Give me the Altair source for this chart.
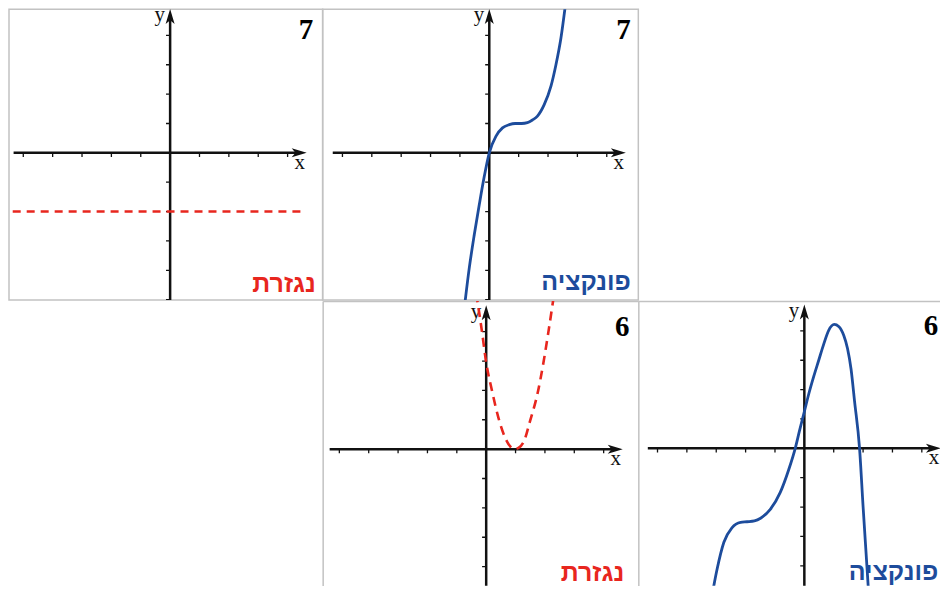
import altair as alt
import pandas as pd

# ---------------- values ----------------
panel_numbers = ["7", "7", "6", "6"]
panel_names = ["נגזרת", "פונקציה", "נגזרת", "פונקציה"]

x_tick_values = [-5, -4, -3, -2, -1, 1, 2, 3, 4]
y_tick_values = [-5, -4, -3, -2, -1, 1, 2, 3, 4]

# panel "7" derivative: horizontal dashed line y = -2
deriv7_x = [-5.36, 4.58]
deriv7_y = [-2.0, -2.0]

# panel "7" function (plateau near (1, 1))
func7_x = [-0.84, -0.68, -0.51, -0.34, -0.17, 0.0, 0.23, 0.45, 0.68, 0.88,
           1.1, 1.3, 1.47, 1.64, 1.87, 2.1, 2.27, 2.44, 2.6]
func7_y = [-5.2, -3.91, -2.78, -1.76, -0.8, 0.0, 0.57, 0.85, 0.96, 1.0,
           1.0, 1.03, 1.12, 1.25, 1.64, 2.27, 3.0, 3.91, 5.1]

# panel "6" derivative (dashed parabola, vertex near x = 1)
deriv6_x = [-0.34, -0.15, 0.0, 0.2, 0.43, 0.65, 0.85, 0.97, 1.1, 1.3,
            1.5, 1.75, 1.95, 2.12, 2.3]
deriv6_y = [5.3, 4.05, 2.95, 1.98, 1.02, 0.38, 0.06, 0.0, 0.04, 0.3,
            0.98, 1.9, 2.95, 4.0, 5.2]

# panel "6" function (plateau near x = -2, max near x = 1)
func6_x = [-3.16, -2.97, -2.74, -2.46, -2.17, -1.95, -1.7, -1.49, -1.16, -0.82,
           -0.53, -0.31, -0.16, 0.0, 0.15, 0.32, 0.49, 0.66, 0.83, 1.02,
           1.17, 1.34, 1.47, 1.59, 1.71, 1.88, 2.0, 2.13, 2.2]
func6_y = [-5.1, -4.11, -3.2, -2.7, -2.52, -2.5, -2.47, -2.38, -2.08, -1.5,
           -0.72, 0.0, 0.62, 1.25, 1.85, 2.45, 3.0, 3.55, 4.02, 4.22,
           4.15, 3.85, 3.4, 2.7, 1.6, 0.0, -1.98, -4.0, -5.1]

# axis extents (in axis units)
axis_x_from, axis_x_to, arrow_x_at = -5.33, 4.45, 4.395
axis_y_from, axis_y_to, arrow_y_at = -5.4, 4.7, 4.645

# label anchors (axis units)
xlabel_pos = (4.41, -0.55)
ylabel_pos = (-0.35, 4.48)
number_pos = [(4.87, 3.86), (4.82, 3.87), (4.88, 3.84), (4.56, 3.87)]
name_pos = [(4.96, -4.74), (4.82, -4.67), (4.70, -4.48), (4.56, -4.50)]

# ---------------- styles / layout ----------------
U = 29.4  # pixels per unit
BLUE = "#1d4c9c"
RED = "#e8261e"
AXIS = "#111111"
FRAME = "#c2c2c2"
SERIF = "Liberation Serif, DejaVu Serif, serif"
SANS = "Liberation Sans, Arial, DejaVu Sans, sans-serif"
ARROW_RIGHT = "M1,0L-1,-0.6L-0.5,0L-1,0.6Z"
ARROW_UP = "M0,-1L0.6,1L0,0.5L-0.6,1Z"

col_w = [314, 316, 302]
row_h = [291, 285]


def make_panel(w, h, ox, oy, layers_fn, number, npos_num, name, name_color, npos, framed):
    domx = [-ox / U, (w - ox) / U]
    domy = [-(h - oy) / U, oy / U]
    if framed:
        ax_x = None
        ax_y = None
    else:
        # only the left and top frame edges are visible in the picture
        ax_x = alt.Axis(orient="top", domain=True, domainColor=FRAME, domainWidth=1.5,
                        ticks=False, labels=False, grid=False, title="")
        ax_y = alt.Axis(orient="left", domain=True, domainColor=FRAME, domainWidth=1.5,
                        ticks=False, labels=False, grid=False, title="")
    X = lambda f: alt.X(f, type="quantitative", scale=alt.Scale(domain=domx, nice=False, zero=False), axis=ax_x)
    Y = lambda f: alt.Y(f, type="quantitative", scale=alt.Scale(domain=domy, nice=False, zero=False), axis=ax_y)

    xaxis = alt.Chart(pd.DataFrame({"x": [axis_x_from], "x2": [axis_x_to], "y": [0.0]})).mark_rule(
        color=AXIS, strokeWidth=2.5, clip=True).encode(x=X("x"), x2="x2:Q", y=Y("y"))
    yaxis = alt.Chart(pd.DataFrame({"y": [axis_y_from], "y2": [axis_y_to], "x": [0.0]})).mark_rule(
        color=AXIS, strokeWidth=2.5, clip=True).encode(y=Y("y"), y2="y2:Q", x=X("x"))
    xt = alt.Chart(pd.DataFrame({"x": x_tick_values, "y": [0.0] * len(x_tick_values),
                                 "y2": [-0.14] * len(x_tick_values)})).mark_rule(
        color=AXIS, strokeWidth=1.3, clip=True).encode(x=X("x"), y=Y("y"), y2="y2:Q")
    yt = alt.Chart(pd.DataFrame({"y": y_tick_values, "x": [-0.14] * len(y_tick_values),
                                 "x2": [0.0] * len(y_tick_values)})).mark_rule(
        color=AXIS, strokeWidth=1.3, clip=True).encode(y=Y("y"), x=X("x"), x2="x2:Q")
    ar = alt.Chart(pd.DataFrame({"x": [arrow_x_at], "y": [0.0]})).mark_point(
        shape=ARROW_RIGHT, size=225, filled=True, opacity=1, color=AXIS, strokeWidth=0, clip=True
    ).encode(x=X("x"), y=Y("y"))
    au = alt.Chart(pd.DataFrame({"x": [0.0], "y": [arrow_y_at]})).mark_point(
        shape=ARROW_UP, size=225, filled=True, opacity=1, color=AXIS, strokeWidth=0, clip=True
    ).encode(x=X("x"), y=Y("y"))
    axlab = alt.Chart(pd.DataFrame({"x": [xlabel_pos[0], ylabel_pos[0]],
                                    "y": [xlabel_pos[1], ylabel_pos[1]],
                                    "t": ["x", "y"]})).mark_text(
        font=SERIF, fontSize=21, color=AXIS, align="center", baseline="alphabetic", clip=True
    ).encode(x=X("x"), y=Y("y"), text="t:N")
    num = alt.Chart(pd.DataFrame({"x": [npos_num[0]], "y": [npos_num[1]], "t": [number]})).mark_text(
        font=SERIF, fontSize=29, fontWeight="bold", color="#000000", align="right",
        baseline="alphabetic", clip=True
    ).encode(x=X("x"), y=Y("y"), text="t:N")
    nm = alt.Chart(pd.DataFrame({"x": [npos[0]], "y": [npos[1]], "t": [name]})).mark_text(
        font=SANS, fontSize=25, fontWeight="bold", color=name_color, align="right",
        baseline="alphabetic", clip=True
    ).encode(x=X("x"), y=Y("y"), text="t:N")

    layers = [xaxis, yaxis, xt, yt, ar, au, axlab, num, nm] + layers_fn(X, Y)
    props = dict(width=w, height=h)
    if not framed:
        props["view"] = alt.ViewBackground(strokeOpacity=0)
    return alt.layer(*layers).properties(**props)


def deriv7_layers(X, Y):
    df = pd.DataFrame({"x": [deriv7_x[0]], "x2": [deriv7_x[1]], "y": [deriv7_y[0]]})
    return [alt.Chart(df).mark_rule(color=RED, strokeWidth=2.5, strokeDash=[8, 6], clip=True)
            .encode(x=X("x"), x2="x2:Q", y=Y("y"))]


def func7_layers(X, Y):
    df = pd.DataFrame({"x": func7_x, "y": func7_y})
    return [alt.Chart(df).mark_line(color=BLUE, strokeWidth=2.8, interpolate="monotone", clip=True)
            .encode(x=X("x"), y=Y("y"))]


def deriv6_layers(X, Y):
    df = pd.DataFrame({"x": deriv6_x, "y": deriv6_y})
    return [alt.Chart(df).mark_line(color=RED, strokeWidth=2.6, strokeDash=[9, 6],
                                    interpolate="monotone", clip=True)
            .encode(x=X("x"), y=Y("y"))]


def func6_layers(X, Y):
    df = pd.DataFrame({"x": func6_x, "y": func6_y})
    return [alt.Chart(df).mark_line(color=BLUE, strokeWidth=2.8, interpolate="monotone", clip=True)
            .encode(x=X("x"), y=Y("y"))]


def empty(w, h):
    return alt.Chart(pd.DataFrame({"x": [0.0], "y": [0.0]})).mark_point(opacity=0, size=1).encode(
        x=alt.X("x:Q", axis=None, scale=alt.Scale(domain=[-1, 1])),
        y=alt.Y("y:Q", axis=None, scale=alt.Scale(domain=[-1, 1]))
    ).properties(width=w, height=h, view=alt.ViewBackground(strokeOpacity=0))


p1 = make_panel(col_w[0], row_h[0], 161.3, 143.7, deriv7_layers, panel_numbers[0], number_pos[0],
                panel_names[0], RED, name_pos[0], True)
p2 = make_panel(col_w[1], row_h[0], 166.8, 143.7, func7_layers, panel_numbers[1], number_pos[1],
                panel_names[1], BLUE, name_pos[1], True)
p3 = make_panel(col_w[1], row_h[1], 163.7, 148.3, deriv6_layers, panel_numbers[2], number_pos[2],
                panel_names[2], RED, name_pos[2], False)
p4 = make_panel(col_w[2], row_h[1], 166.2, 147.5, func6_layers, panel_numbers[3], number_pos[3],
                panel_names[3], BLUE, name_pos[3], False)

row1 = alt.hconcat(p1, p2, empty(col_w[2], row_h[0]), spacing=0, bounds="flush")
row2 = alt.hconcat(empty(col_w[0], row_h[1]), p3, p4, spacing=0, bounds="flush")

chart = alt.vconcat(row1, row2, spacing=0).properties(
    padding=0, background="white"
).configure_view(stroke=FRAME, strokeWidth=1.5).configure_concat(spacing=0)

chart.save("out.html", embed_options={"renderer": "svg", "actions": False})
